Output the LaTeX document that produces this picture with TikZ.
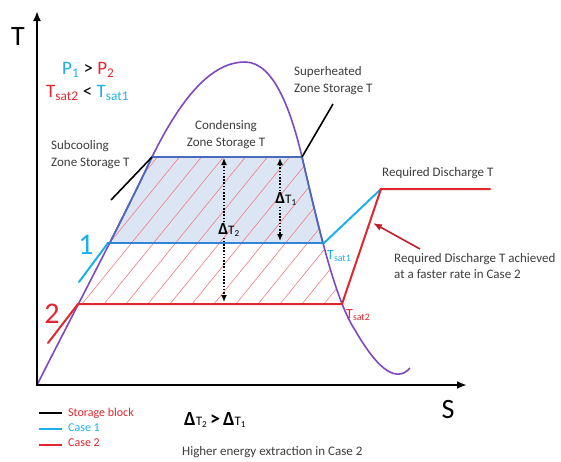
\documentclass[tikz,border=0pt]{standalone}
\usepackage{fontspec}
\setmainfont{Carlito}
\usetikzlibrary{arrows.meta}
\definecolor{tsdome}{HTML}{7E48C0}
\definecolor{tscyan}{HTML}{1CB0EA}
\definecolor{tscase}{HTML}{2F86D8}
\definecolor{tsred}{HTML}{E0262E}
\definecolor{tsdarkred}{HTML}{C01F2A}
\definecolor{tsblock}{HTML}{4A68C0}
\definecolor{tsblockfill}{HTML}{DCE5F3}
\definecolor{tshatch}{HTML}{F07C84}
\definecolor{tsink}{HTML}{3C3C3C}
\newcommand{\tsfs}[1]{\fontsize{#1}{#1}\selectfont}
\newcommand{\tsdelta}[2]{{\tsfs{#1}\bfseries Δ}T\textsubscript{#2}}
\tikzset{
  tsaxis/.style={line width=2.4pt, {Latex[length=10pt,width=8pt]}-{Latex[length=10pt,width=8pt]}},
  tsdomecurve/.style={insert path={(37,385)
    .. controls (80,300) and (120,225) .. (152,157)
    .. controls (185,90) and (215,62) .. (245,62)
    .. controls (275,62) and (292,115) .. (302,157)
    .. controls (318,225) and (335,300) .. (355,330)
    .. controls (375,365) and (395,385) .. (410,368)}},
  tscaseline/.style={line width=2pt, line cap=round},
  tspointer/.style={draw=black, line width=1.6pt},
  tsdotarrow/.style={line width=1.5pt, dash pattern=on 1.6pt off 1.6pt,
    -{Latex[length=7pt,width=6pt]}},
  tsnote/.style={font=\tsfs{13}, text=tsink, inner sep=0pt, align=left},
  tslegend/.style={font=\tsfs{12}, anchor=west, inner sep=0pt},
  tslegline/.style={line width=2.4pt},
}

\begin{document}
\begin{tikzpicture}[x=1pt, y=-1pt]
\useasboundingbox (0,0) rectangle (561,461);

% Storage block and hatched discharge band, cut out of the dome.
\begin{scope}
  \clip[tsdomecurve] -- cycle;
  \clip (0,157) rectangle (561,304);
  \fill[tsblockfill] (0,157) rectangle (561,243);
  \foreach \i in {-160,-138,...,380}
    \draw[tshatch, line width=0.6pt] (\i,304) -- ++(130,-160);
\end{scope}

% Saturation dome.
\draw[draw=tsdome, line width=1.6pt, tsdomecurve];
\begin{scope}
  \clip (0,157) rectangle (561,243);
  \draw[draw=tsblock, line width=1.6pt, tsdomecurve];
\end{scope}

% Axes.
\coordinate (origin) at (37,385);
\coordinate (ttip) at (37,11);
\coordinate (stip) at (467,385);
\draw[tsaxis] (ttip) -- (origin) -- (stip);
\node[font=\tsfs{28}] (tlab) at (18,37) {T};
\node[font=\tsfs{28}] (slab) at (448,410) {S};

% Key points.
\coordinate (subc) at (152,157);
\coordinate (supc) at (302,157);
\coordinate (liq1) at (108,243);
\coordinate (sat1) at (324,243);
\coordinate (liq2) at (78,304);
\coordinate (sat2) at (342,304);
\coordinate (disch) at (381,189);
\coordinate (dischend) at (490,189);

% Storage block top.
\draw[draw=tsblock, line width=1.8pt] (subc) -- (supc);

% Case 1.
\draw[tscaseline, tscyan] (79,282) -- (liq1);
\draw[tscaseline, tscase, line width=2.8pt] (liq1) -- (sat1);
\draw[tscaseline, tscyan] (sat1) -- (disch);
\node[font=\tsfs{30}, text=tscyan] (one) at (86,245) {1};
\node[anchor=west, font=\tsfs{14}, text=tscyan, inner sep=0pt] (tsat1)
  at (327,256) {T\textsubscript{sat1}};

% Case 2.
\draw[tscaseline, tsred] (48,343) -- (liq2);
\draw[tscaseline, tsred] (liq2) -- (sat2) -- (disch) -- (dischend);
\node[font=\tsfs{30}, text=tsred] (two) at (52,314) {2};
\node[anchor=west, font=\tsfs{14}, text=tsred, inner sep=0pt] (tsat2)
  at (346,315) {T\textsubscript{sat2}};

% Pressure and saturation relations.
\node[anchor=west, font=\tsfs{19}, inner sep=0pt] (plab) at (62,70)
  {\textcolor{tscyan}{P\textsubscript{1}} > \textcolor{tsred}{P\textsubscript{2}}};
\node[anchor=west, font=\tsfs{19}, inner sep=0pt] (tlabs) at (46,93)
  {\textcolor{tsred}{T\textsubscript{sat2}} < \textcolor{tscyan}{T\textsubscript{sat1}}};

% Zone labels.
\node[tsnote, anchor=north west] (subnote) at (51,140)
  {Subcooling\\[4pt]Zone Storage T};
\coordinate (subend) at (111,200);
\draw[tspointer] (subc) -- (subend);
\node[tsnote, align=center] (condnote) at (226,135)
  {Condensing\\[4pt]Zone Storage T};
\node[tsnote, anchor=north west] (supnote) at (294,66)
  {Superheated\\[4pt]Zone Storage T};
\coordinate (supend) at (333,104);
\draw[tspointer] (supc) -- (supend);

% Temperature lifts.
\node[font=\tsfs{13}, inner sep=1pt] (dt2) at (229,230) {\tsdelta{17}{2}};
\coordinate (dt2top) at (224,158);
\coordinate (dt2bot) at (224,302);
\draw[tsdotarrow] (dt2top |- dt2.north) -- (dt2top);
\draw[tsdotarrow] (dt2bot |- dt2.south) -- (dt2bot);
\node[font=\tsfs{13}, inner sep=1pt] (dt1) at (286,199) {\tsdelta{17}{1}};
\coordinate (dt1top) at (280,158);
\coordinate (dt1bot) at (280,241);
\draw[tsdotarrow] (dt1top |- dt1.north) -- (dt1top);
\draw[tsdotarrow] (dt1bot |- dt1.south) -- (dt1bot);

% Discharge annotations.
\node[tsnote, anchor=west] (reqnote) at (382,173) {Required Discharge T};
\node[tsnote, anchor=north west] (ratenote) at (394,253)
  {Required Discharge T achieved\\[3pt]at a faster rate in Case 2};
\coordinate (ratetail) at (420,249);
\coordinate (ratehead) at (373,223);
\draw[tsdarkred, line width=1.6pt, -{Latex[length=9pt,width=7pt]}]
  (ratetail) -- (ratehead);

% Legend.
\draw[tslegline, black] (39,413) -- (62,413);
\node[tslegend, text=tsred] (legblock) at (68,413) {Storage block};
\draw[tslegline, tscyan] (39,429) -- (62,429);
\node[tslegend, text=tscyan] (legone) at (68,428) {Case 1};
\draw[tslegline, tsred] (39,445) -- (62,445);
\node[tslegend, text=tsred] (legtwo) at (68,443) {Case 2};

% Conclusion.
\node[anchor=west, font=\tsfs{13}, inner sep=0pt] (cmp) at (184,420)
  {\tsdelta{20}{2} {\tsfs{20}\bfseries >} \tsdelta{20}{1}};
\node[tsnote, anchor=west] (energy) at (182,452)
  {Higher energy extraction in Case 2};

\end{tikzpicture}
\end{document}
